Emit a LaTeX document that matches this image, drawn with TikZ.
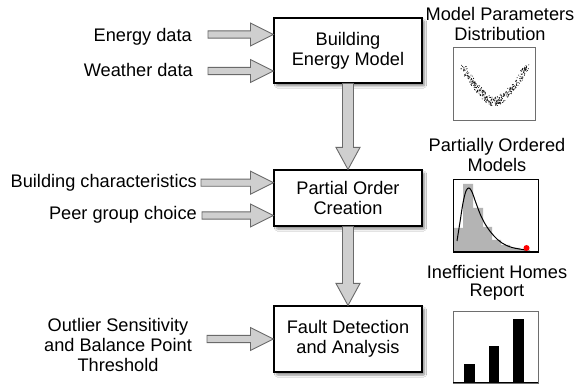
\documentclass[tikz,border=0pt]{standalone}
\usepackage{fontspec}
\setmainfont{Liberation Sans}
\usetikzlibrary{calc,shadows.blur}
\definecolor{arrfill}{HTML}{CFCFCF}
\definecolor{arrdraw}{HTML}{6A6A6A}
\definecolor{framegray}{HTML}{6E6E6E}
\definecolor{histgray}{HTML}{B4B4B4}
\tikzset{
  procbox/.style={draw=black, line width=1.1pt, fill=white, minimum width=148pt, minimum height=#1, inner sep=0pt, align=center,
    blur shadow={shadow xshift=2.5pt, shadow yshift=-3pt, shadow blur steps=6, shadow blur extra rounding=1pt, shadow opacity=45}},
  lbl/.style={inner sep=0pt, font=\fontsize{18.2}{20}\selectfont},
  blockarrow/.style={fill=arrfill, draw=arrdraw, line width=0.9pt, line join=miter},
  chartframe/.style={draw=framegray, line width=0.9pt}
}
\newcommand{\harr}[2]{\draw[blockarrow] let \p1=(#1), \p2=(#2) in
  (\x1,\y1+3.6pt) -- (\x2-23pt,\y1+3.6pt) -- (\x2-23pt,\y1+11.5pt) -- (\x2,\y1)
  -- (\x2-23pt,\y1-11.5pt) -- (\x2-23pt,\y1-3.6pt) -- (\x1,\y1-3.6pt) -- cycle;}
\newcommand{\varr}[2]{\draw[blockarrow] let \p1=(#1), \p2=(#2) in
  (\x1-5.5pt,\y1) -- (\x1-5.5pt,\y2+22pt) -- (\x1-12pt,\y2+22pt) -- (\x1,\y2)
  -- (\x1+12pt,\y2+22pt) -- (\x1+5.5pt,\y2+22pt) -- (\x1+5.5pt,\y1) -- cycle;}
\begin{document}
\begin{tikzpicture}[x=1pt,y=-1pt]
\useasboundingbox (0,0) rectangle (576,387);
\fill[white] (0,0) rectangle (576,387);

% process boxes
\node[procbox=65pt, lbl] (b1) at (348,50.5) {Building\\Energy Model};
\node[procbox=56pt, lbl] (b2) at (348,198) {Partial Order\\Creation};
\node[procbox=66pt, lbl] (b3) at (348,339) {Fault Detection\\and Analysis};

% input labels
\node[lbl, anchor=base east] (t1) at (192,41.7) {Energy data};
\node[lbl, anchor=base east] (t2) at (193,77) {Weather data};
\node[lbl, anchor=base east] (t3) at (197,187.3) {Building characteristics};
\node[lbl, anchor=base east] (t4) at (197,220) {Peer group choice};
\node[lbl, anchor=base, align=center] (t5) at (118,371.7) {Outlier Sensitivity\\and Balance Point\\Threshold};

% arrow start coordinates
\coordinate (s1) at (208,34.5);
\coordinate (s2) at (208,71);
\coordinate (s3) at (201,182.7);
\coordinate (s4) at (202,215.5);
\coordinate (s5) at (207,339);

\harr{s1}{b1.west |- s1}
\harr{s2}{b1.west |- s2}
\harr{s3}{b2.west |- s3}
\harr{s4}{b2.west |- s4}
\harr{s5}{b3.west |- s5}

\varr{b1.south}{b2.north}
\varr{b2.south}{b3.north}

% chart titles
\node[lbl, anchor=base] (h1) at (500,20.7) {Model Parameters};
\node[lbl, anchor=base] (h1b) at (500,40.7) {Distribution};
\node[lbl, anchor=base] (h2) at (497,151.7) {Partially Ordered};
\node[lbl, anchor=base] (h2b) at (497,171.7) {Models};
\node[lbl, anchor=base] (h3) at (497,279) {Inefficient Homes};
\node[lbl, anchor=base] (h3b) at (497,296.7) {Report};

% chart 1: scatter
\draw[chartframe] (453,47) rectangle (535,120);
\pgfmathsetseed{12}
\foreach \i in {1,...,360}{
  \pgfmathsetmacro\tt{rand}
  \pgfmathsetmacro\px{495+33*\tt+2.5*rand}
  \pgfmathsetmacro\py{102-37*pow(abs(\tt),1.6)+(4.5-1.5*abs(\tt))*rand}
  \fill (\px,\py) circle (0.5pt);
}

% chart 2: histogram with curve
\fill[histgray] (453,252) |- (463,228) |- (473,184) |- (483,208) |- (492,227) |- (501,240) |- (510,245) |- (520,248) |- (530,250) -- (530,252) -- cycle;
\draw[line width=1pt] plot[smooth, tension=0.6] coordinates {(457,241) (460,222) (463,203) (466,191) (469,188) (472,192) (476,203) (481,216) (487,227) (494,236) (502,243) (512,247.5) (526,250)};
\draw[line width=1pt] (453,252) -- (538,252);
\draw[draw=black, line width=0.9pt] (453,179) rectangle (538,252);
\fill[red] (526.5,248) circle (3pt);

% chart 3: bars
\draw[chartframe] (453,311) rectangle (538,383);
\fill[black] (464,364) rectangle (475,383);
\fill[black] (489,346) rectangle (499,383);
\fill[black] (513,319) rectangle (524,383);
\draw[line width=1pt] (453,383) -- (538,383);
\end{tikzpicture}
\end{document}
